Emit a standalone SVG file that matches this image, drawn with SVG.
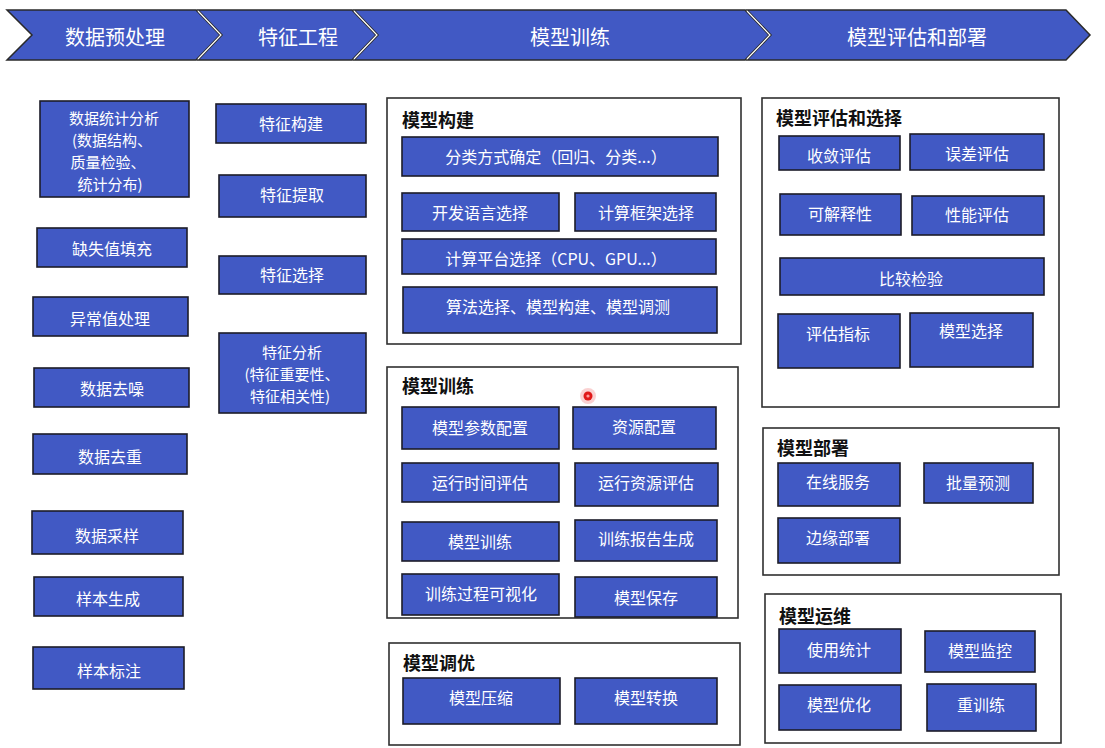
<svg xmlns="http://www.w3.org/2000/svg" width="1105" height="748" viewBox="0 0 1105 748">
<style>
.bg{fill:#ffffff}
.chev{fill:#4159c4;stroke:#2a2a2a;stroke-width:1.5}
.chev-sep{fill:none;stroke:#ffffff;stroke-width:1.2}
.btxt{font-family:"Noto Sans CJK SC","Noto Sans",sans-serif;font-size:20px;fill:#ffffff;text-anchor:middle;dominant-baseline:central}
.box{fill:#4159c4;stroke:#1c1c28;stroke-width:1.6}
.txt{font-family:"Noto Sans CJK SC","Noto Sans",sans-serif;font-size:16px;fill:#ffffff;text-anchor:middle;dominant-baseline:central}
.txt-s{font-family:"Noto Sans CJK SC","Noto Sans",sans-serif;font-size:15px;fill:#ffffff;text-anchor:middle;dominant-baseline:central}
.cont{fill:#ffffff;stroke:#303030;stroke-width:1.6}
.ttl{font-family:"Noto Sans CJK SC","Noto Sans",sans-serif;font-size:18px;font-weight:bold;fill:#111111}
</style>
<rect class="bg" x="0" y="0" width="1105" height="748"/>

<g id="banner">
  <g id="stage-data">
    <polygon class="chev" points="7,10 196,10 220,35 196,60 7,60 32,35"/>
    <text class="btxt" x="115" y="36">数据预处理</text>
  </g>
  <g id="stage-feature">
    <polygon class="chev" points="198,10 352,10 376,35 352,60 198,60 222,35"/>
    <text class="btxt" x="298" y="36">特征工程</text>
  </g>
  <g id="stage-train">
    <polygon class="chev" points="354,10 745,10 769,35 745,60 354,60 378,35"/>
    <text class="btxt" x="570" y="36">模型训练</text>
  </g>
  <g id="stage-eval">
    <polygon class="chev" points="747,10 1066,10 1090,35 1066,60 747,60 771,35"/>
    <text class="btxt" x="917" y="36">模型评估和部署</text>
  </g>
  <polyline class="chev-sep" points="198,11 221,35 198,59"/>
  <polyline class="chev-sep" points="354,11 377,35 354,59"/>
  <polyline class="chev-sep" points="747,11 770,35 747,59"/>
</g>

<g id="connectors"></g>

<!-- 数据预处理 column -->
<g id="n-stat">
  <rect class="box" x="40" y="101" width="149" height="96"/>
  <text class="txt-s" x="114" y="117">数据统计分析</text>
  <text class="txt-s" x="112" y="139">(数据结构、</text>
  <text class="txt-s" x="108" y="161">质量检验、</text>
  <text class="txt-s" x="110" y="183">统计分布)</text>
</g>
<g id="n-missing"><rect class="box" x="37" y="228" width="150" height="39"/><text class="txt" x="112" y="248">缺失值填充</text></g>
<g id="n-outlier"><rect class="box" x="33" y="297" width="155" height="39"/><text class="txt" x="110" y="318">异常值处理</text></g>
<g id="n-denoise"><rect class="box" x="34" y="368" width="155" height="39"/><text class="txt" x="112" y="388">数据去噪</text></g>
<g id="n-dedup"><rect class="box" x="33" y="434" width="154" height="40"/><text class="txt" x="110" y="456">数据去重</text></g>
<g id="n-sample"><rect class="box" x="32" y="511" width="151" height="43"/><text class="txt" x="107" y="535">数据采样</text></g>
<g id="n-gen"><rect class="box" x="34" y="577" width="149" height="39"/><text class="txt" x="108" y="598">样本生成</text></g>
<g id="n-label"><rect class="box" x="33" y="647" width="151" height="42"/><text class="txt" x="109" y="670">样本标注</text></g>

<!-- 特征工程 column -->
<g id="n-fbuild"><rect class="box" x="216" y="104" width="150" height="39"/><text class="txt" x="291" y="123">特征构建</text></g>
<g id="n-fextract"><rect class="box" x="219" y="175" width="147" height="42"/><text class="txt" x="292" y="194">特征提取</text></g>
<g id="n-fselect"><rect class="box" x="219" y="256" width="147" height="38"/><text class="txt" x="292" y="274">特征选择</text></g>
<g id="n-fanalysis">
  <rect class="box" x="219" y="333" width="147" height="80"/>
  <text class="txt-s" x="292" y="351">特征分析</text>
  <text class="txt-s" x="292" y="373">(特征重要性、</text>
  <text class="txt-s" x="290" y="395">特征相关性)</text>
</g>

<!-- 模型构建 -->
<g id="c-build">
  <rect class="cont" x="387" y="98" width="354" height="246"/>
  <text class="ttl" x="402" y="127">模型构建</text>
</g>
<g id="n-classify"><rect class="box" x="402" y="137" width="316" height="39"/><text class="txt" x="556" y="156">分类方式确定（回归、分类...）</text></g>
<g id="n-lang"><rect class="box" x="402" y="193" width="157" height="38"/><text class="txt" x="480" y="212">开发语言选择</text></g>
<g id="n-framework"><rect class="box" x="575" y="193" width="141" height="38"/><text class="txt" x="646" y="212">计算框架选择</text></g>
<g id="n-platform"><rect class="box" x="402" y="239" width="314" height="35"/><text class="txt" x="556" y="258">计算平台选择（CPU、GPU...）</text></g>
<g id="n-algo"><rect class="box" x="403" y="287" width="314" height="46"/><text class="txt" x="558" y="306">算法选择、模型构建、模型调测</text></g>

<!-- 模型训练 -->
<g id="c-train">
  <rect class="cont" x="387" y="367" width="351" height="251"/>
  <text class="ttl" x="402" y="393">模型训练</text>
</g>
<g id="n-param"><rect class="box" x="402" y="407" width="157" height="42"/><text class="txt" x="480" y="427">模型参数配置</text></g>
<g id="n-resource"><rect class="box" x="573" y="407" width="143" height="42"/><text class="txt" x="644" y="426">资源配置</text></g>
<g id="n-runtime"><rect class="box" x="402" y="463" width="157" height="39"/><text class="txt" x="480" y="482">运行时间评估</text></g>
<g id="n-runres"><rect class="box" x="575" y="463" width="143" height="43"/><text class="txt" x="646" y="482">运行资源评估</text></g>
<g id="n-training"><rect class="box" x="402" y="522" width="157" height="39"/><text class="txt" x="480" y="541">模型训练</text></g>
<g id="n-report"><rect class="box" x="575" y="520" width="142" height="41"/><text class="txt" x="646" y="538">训练报告生成</text></g>
<g id="n-visual"><rect class="box" x="402" y="574" width="157" height="41"/><text class="txt" x="481" y="593">训练过程可视化</text></g>
<g id="n-save"><rect class="box" x="575" y="577" width="142" height="40"/><text class="txt" x="646" y="597">模型保存</text></g>

<!-- 模型调优 -->
<g id="c-tune">
  <rect class="cont" x="389" y="643" width="351" height="102"/>
  <text class="ttl" x="403" y="670">模型调优</text>
</g>
<g id="n-compress"><rect class="box" x="403" y="678" width="157" height="46"/><text class="txt" x="481" y="697">模型压缩</text></g>
<g id="n-convert"><rect class="box" x="575" y="678" width="142" height="46"/><text class="txt" x="646" y="697">模型转换</text></g>

<!-- 模型评估和选择 -->
<g id="c-eval">
  <rect class="cont" x="762" y="98" width="297" height="309"/>
  <text class="ttl" x="776" y="125">模型评估和选择</text>
</g>
<g id="n-converge"><rect class="box" x="779" y="136" width="121" height="34"/><text class="txt" x="839" y="155">收敛评估</text></g>
<g id="n-error"><rect class="box" x="910" y="134" width="134" height="36"/><text class="txt" x="977" y="153">误差评估</text></g>
<g id="n-explain"><rect class="box" x="780" y="194" width="121" height="41"/><text class="txt" x="840" y="213">可解释性</text></g>
<g id="n-perf"><rect class="box" x="912" y="196" width="132" height="39"/><text class="txt" x="977" y="214">性能评估</text></g>
<g id="n-compare"><rect class="box" x="780" y="258" width="264" height="37"/><text class="txt" x="911" y="278">比较检验</text></g>
<g id="n-metric"><rect class="box" x="778" y="314" width="122" height="54"/><text class="txt" x="838" y="333">评估指标</text></g>
<g id="n-select"><rect class="box" x="910" y="313" width="123" height="54"/><text class="txt" x="971" y="330">模型选择</text></g>

<!-- 模型部署 -->
<g id="c-deploy">
  <rect class="cont" x="763" y="428" width="296" height="147"/>
  <text class="ttl" x="777" y="455">模型部署</text>
</g>
<g id="n-online"><rect class="box" x="778" y="463" width="122" height="43"/><text class="txt" x="838" y="481">在线服务</text></g>
<g id="n-batch"><rect class="box" x="924" y="463" width="109" height="40"/><text class="txt" x="978" y="482">批量预测</text></g>
<g id="n-edge"><rect class="box" x="778" y="518" width="122" height="45"/><text class="txt" x="838" y="537">边缘部署</text></g>

<!-- 模型运维 -->
<g id="c-ops">
  <rect class="cont" x="765" y="594" width="296" height="149"/>
  <text class="ttl" x="779" y="623">模型运维</text>
</g>
<g id="n-usage"><rect class="box" x="779" y="629" width="122" height="44"/><text class="txt" x="839" y="649">使用统计</text></g>
<g id="n-monitor"><rect class="box" x="925" y="631" width="110" height="41"/><text class="txt" x="980" y="650">模型监控</text></g>
<g id="n-optim"><rect class="box" x="779" y="685" width="122" height="45"/><text class="txt" x="839" y="704">模型优化</text></g>
<g id="n-retrain"><rect class="box" x="927" y="684" width="109" height="47"/><text class="txt" x="981" y="704">重训练</text></g>

<!-- cursor marker -->
<circle cx="588" cy="396" r="8" fill="#f6b3b3" opacity="0.6"/>
<circle cx="588" cy="396" r="4.5" fill="#e01818"/>
<circle cx="588" cy="396" r="1.6" fill="#ff9a9a"/>
</svg>
